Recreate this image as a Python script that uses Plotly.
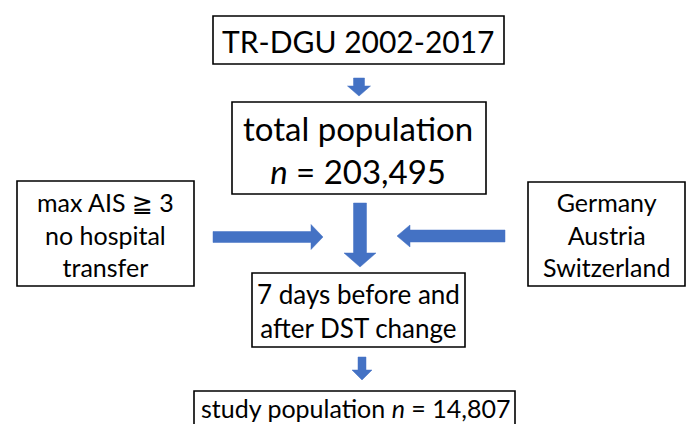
import plotly.graph_objects as go

# ---- content ----
box_labels = [
    "TR-DGU 2002-2017",
    "total population<br><i>n</i> = 203,495",
    "max AIS ≧ 3<br>no hospital<br>transfer",
    "Germany<br>Austria<br>Switzerland",
    "7 days before and<br>after DST change",
    "study population <i>n</i> = 14,807",
]
font_sizes = [30, 33, 25, 25, 26, 25]

# ---- layout (pixel coordinates, y downward) ----
box_rects = [  # x0, y0, x1, y1
    (213, 16, 504, 64),
    (232, 102, 486, 194),
    (17, 181, 194, 286),
    (528, 182, 685, 286),
    (252, 273, 465, 347),
    (194, 391, 515, 440),
]
label_centers = [
    (358, 41),
    (358, 149),
    (105, 234),
    (606, 234),
    (358, 311),
    (355, 408),
]
# arrows: direction, tail, tip, cross-axis center, shaft half-width, head half-width, head length
arrows = [
    ("down", 78, 96, 359, 5.5, 11.5, 10),
    ("down", 203, 267, 360, 6.5, 16, 14),
    ("right", 213, 323, 237, 5.5, 12.5, 12),
    ("left", 505, 397, 236, 6, 11, 13),
    ("down", 357, 380, 362, 4, 10, 10),
]
ARROW_COLOR = "#4472C4"


def arrow_path(direction, tail, tip, c, sw, hw, hl):
    s = 1 if tip > tail else -1
    base = tip - s * hl
    pts_main = [(tail, c - sw), (base, c - sw), (base, c - hw), (tip, c),
                (base, c + hw), (base, c + sw), (tail, c + sw)]
    if direction in ("down", "up"):
        pts = [(b, a) for a, b in pts_main]
    else:
        pts = pts_main
    return "M " + " L ".join(f"{x},{y}" for x, y in pts) + " Z"


fig = go.Figure()
shapes = []
for (x0, y0, x1, y1) in box_rects:
    shapes.append(dict(type="rect", xref="x", yref="y", x0=x0, y0=y0, x1=x1, y1=y1,
                       line=dict(color="black", width=1.6), fillcolor="white", layer="below"))
for a in arrows:
    shapes.append(dict(type="path", xref="x", yref="y", path=arrow_path(*a),
                       fillcolor=ARROW_COLOR, line=dict(color=ARROW_COLOR, width=0.5)))

annotations = []
for lab, (cx, cy), fs in zip(box_labels, label_centers, font_sizes):
    annotations.append(dict(x=cx, y=cy, xref="x", yref="y", text=lab, showarrow=False,
                            xanchor="center", yanchor="middle",
                            font=dict(family="Lato, Noto Sans, DejaVu Sans", size=fs, color="black")))

fig.update_layout(
    width=686, height=424,
    margin=dict(l=0, r=0, t=0, b=0),
    paper_bgcolor="white", plot_bgcolor="white",
    shapes=shapes, annotations=annotations,
    xaxis=dict(range=[0, 686], visible=False, fixedrange=True),
    yaxis=dict(range=[424, 0], visible=False, fixedrange=True),
    showlegend=False,
)
fig.write_html(
    "out.html",
    config={"displayModeBar": False},
    post_script="document.body.style.margin='0';document.body.style.overflow='hidden';",
)
